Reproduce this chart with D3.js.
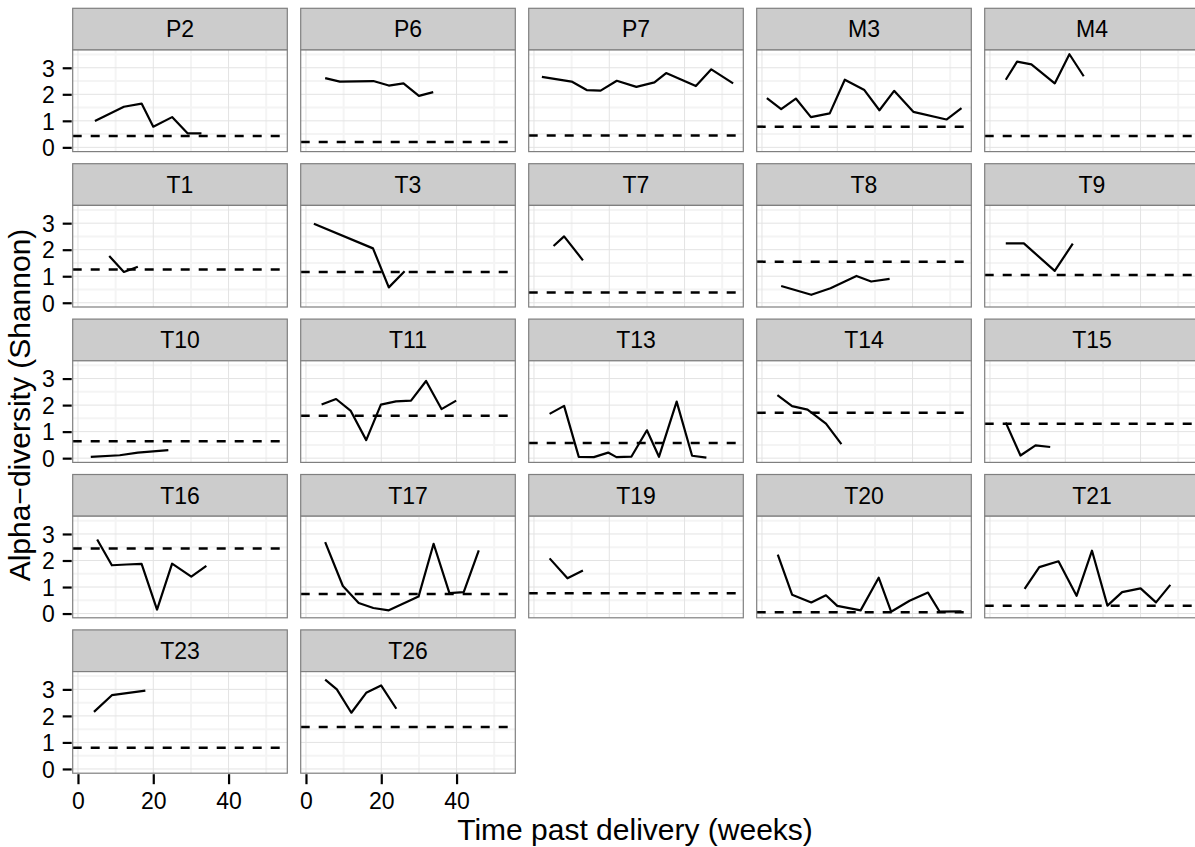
<!DOCTYPE html>
<html>
<head>
<meta charset="utf-8">
<script src="https://cdn.jsdelivr.net/npm/d3@7/dist/d3.min.js"></script>
<style>
  body { margin: 0; background: #ffffff; }
  svg { display: block; }
  text { font-family: "Liberation Sans", Arial, Helvetica, sans-serif; fill: #000; }
</style>
</head>
<body>
<svg id="chart" width="1195" height="847"></svg>
<script>
// Subjects, in facet order
const subjects = ["P2", "P6", "P7", "M3", "M4",
                  "T1", "T3", "T7", "T8", "T9",
                  "T10", "T11", "T13", "T14", "T15",
                  "T16", "T17", "T19", "T20", "T21",
                  "T23", "T26"];

// Sampling times (weeks past delivery), one list per subject
const weeks = [
  [4.5, 12.2, 16.9, 20.0, 25.0, 29.1, 32.8],
  [5.1, 9.0, 17.9, 22.0, 25.9, 30.0, 33.8],
  [2.1, 10.0, 14.0, 17.7, 22.0, 27.2, 32.0, 35.1, 43.0, 47.1, 52.9],
  [1.3, 5.1, 9.0, 13.0, 18.0, 22.0, 27.2, 31.2, 35.1, 40.2, 49.0, 53.0],
  [4.2, 7.2, 11.0, 17.2, 21.1, 24.9],
  [8.3, 12.2, 15.9],
  [2.1, 17.8, 22.0, 26.2],
  [5.2, 8.0, 13.0],
  [5.1, 13.1, 18.2, 25.1, 29.0, 33.9],
  [4.2, 9.0, 17.2, 22.0],
  [3.4, 11.1, 15.9, 24.0],
  [4.15, 8.0, 11.9, 16.0, 19.9, 23.9, 27.9, 31.9, 36.0, 39.9],
  [4.15, 8.0, 11.9, 15.9, 19.7, 21.9, 25.9, 30.0, 33.2, 37.9, 42.0, 45.8],
  [4.1, 8.0, 12.1, 17.0, 21.1],
  [4.2, 8.1, 12.1, 16.0],
  [5.1, 9.0, 12.9, 16.9, 21.0, 25.0, 30.1, 34.1],
  [5.1, 9.8, 14.0, 17.9, 22.0, 29.9, 33.9, 38.1, 41.9, 45.9],
  [4.15, 8.9, 13.0],
  [4.2, 8.0, 13.1, 17.0, 20.0, 26.2, 31.0, 34.3, 39.2, 44.1, 47.2, 53.0],
  [9.2, 13.1, 18.2, 23.0, 27.1, 31.2, 35.1, 40.0, 44.1, 47.9],
  [4.25, 9.0, 17.9],
  [5.1, 8.2, 12.05, 16.0, 19.95, 24.0]
];

// Shannon diversity at each sampling time
const shannon = [
  [0.99, 1.53, 1.65, 0.78, 1.14, 0.53, 0.53],
  [2.61, 2.48, 2.50, 2.33, 2.41, 1.94, 2.08],
  [2.66, 2.48, 2.16, 2.14, 2.51, 2.28, 2.45, 2.80, 2.31, 2.94, 2.41],
  [1.86, 1.44, 1.84, 1.14, 1.28, 2.55, 2.16, 1.40, 2.13, 1.34, 1.05, 1.48],
  [2.55, 3.23, 3.13, 2.41, 3.51, 2.68],
  [1.76, 1.16, 1.36],
  [2.98, 2.05, 0.58, 1.19],
  [2.14, 2.50, 1.60],
  [0.63, 0.30, 0.55, 1.01, 0.80, 0.90],
  [2.24, 2.24, 1.20, 2.23],
  [0.05, 0.11, 0.21, 0.30],
  [2.02, 2.23, 1.78, 0.68, 2.02, 2.14, 2.17, 2.91, 1.85, 2.17],
  [1.67, 1.97, 0.05, 0.04, 0.21, 0.04, 0.06, 1.05, 0.05, 2.13, 0.09, 0.02],
  [2.38, 1.96, 1.83, 1.30, 0.53],
  [1.34, 0.10, 0.48, 0.42],
  [2.79, 1.82, 1.85, 1.87, 0.15, 1.88, 1.39, 1.80],
  [2.69, 1.04, 0.40, 0.21, 0.12, 0.64, 2.63, 0.77, 0.81, 2.38],
  [2.08, 1.33, 1.62],
  [2.22, 0.71, 0.42, 0.69, 0.29, 0.12, 1.35, 0.07, 0.48, 0.79, 0.07, 0.08],
  [0.93, 1.75, 1.97, 0.67, 2.37, 0.30, 0.81, 0.95, 0.42, 1.08],
  [2.15, 2.78, 2.95],
  [3.37, 3.00, 2.12, 2.87, 3.15, 2.27]
];

// Reference level per subject (dashed line)
const baseline = [0.43, 0.20, 0.45, 0.78, 0.43,
                  1.25, 1.16, 0.39, 1.55, 1.05,
                  0.64, 1.60, 0.57, 1.71, 1.30,
                  2.45, 0.74, 0.77, 0.05, 0.29,
                  0.80, 1.58];

// Axis breaks
const xTicks = [0, 20, 40];
const yTicks = [0, 1, 2, 3];
const xMinorTicks = [10, 30, 50];
const yMinorTicks = [0.5, 1.5, 2.5, 3.5];

// Facet grid geometry
const nCols = 5;
const nRows = Math.ceil(subjects.length / nCols);
const left0 = 72.7, colStep = 228, panelW = 214.6;
const top0 = 8.3, rowStep = 155.4, stripH = 41.7, panelH = 101.6;

const x = d3.scaleLinear().domain([-1.4, 55.6]).range([0, panelW]);
const y = d3.scaleLinear().domain([-0.16, 3.67]).range([panelH, 0]);

const svg = d3.select("#chart");
svg.append("rect").attr("width", 1195).attr("height", 847).attr("fill", "#ffffff");

const line = d3.line()
  .x(d => x(d[0]))
  .y(d => y(d[1]));

subjects.forEach((name, i) => {
  const col = i % nCols, row = Math.floor(i / nCols);
  const px = left0 + col * colStep;
  const stripTop = top0 + row * rowStep;
  const py = stripTop + stripH;

  // strip
  const strip = svg.append("g").attr("transform", `translate(${px},${stripTop})`);
  strip.append("rect")
    .attr("width", panelW).attr("height", stripH)
    .attr("fill", "#cccccc").attr("stroke", "#7f7f7f").attr("stroke-width", 1.2);
  strip.append("text")
    .attr("x", panelW / 2).attr("y", stripH / 2).attr("dy", "0.36em")
    .attr("text-anchor", "middle").attr("font-size", 23)
    .attr("fill", "#1a1a1a")
    .text(name);

  const g = svg.append("g").attr("transform", `translate(${px},${py})`);
  g.append("rect").attr("width", panelW).attr("height", panelH).attr("fill", "#ffffff");

  // minor grid
  g.selectAll(".vminor").data(xMinorTicks).enter().append("line")
    .attr("x1", d => x(d)).attr("x2", d => x(d))
    .attr("y1", 0).attr("y2", panelH)
    .attr("stroke", "#f4f4f4").attr("stroke-width", 2);
  g.selectAll(".hminor").data(yMinorTicks).enter().append("line")
    .attr("y1", d => y(d)).attr("y2", d => y(d))
    .attr("x1", 0).attr("x2", panelW)
    .attr("stroke", "#f4f4f4").attr("stroke-width", 2);
  // major grid
  g.selectAll(".vmajor").data(xTicks).enter().append("line")
    .attr("x1", d => x(d)).attr("x2", d => x(d))
    .attr("y1", 0).attr("y2", panelH)
    .attr("stroke", "#e3e3e3").attr("stroke-width", 1);
  g.selectAll(".hmajor").data(yTicks).enter().append("line")
    .attr("y1", d => y(d)).attr("y2", d => y(d))
    .attr("x1", 0).attr("x2", panelW)
    .attr("stroke", "#e3e3e3").attr("stroke-width", 1);

  // dashed reference level
  g.append("line")
    .attr("x1", 0).attr("x2", panelW)
    .attr("y1", y(baseline[i])).attr("y2", y(baseline[i]))
    .attr("stroke", "#000").attr("stroke-width", 2.5)
    .attr("stroke-dasharray", "9,9");

  // diversity trajectory
  const pts = weeks[i].map((w, k) => [w, shannon[i][k]]);
  g.append("path")
    .attr("d", line(pts))
    .attr("fill", "none").attr("stroke", "#000")
    .attr("stroke-width", 2.2).attr("stroke-linejoin", "round");

  // panel border
  g.append("rect").attr("width", panelW).attr("height", panelH)
    .attr("fill", "none").attr("stroke", "#7f7f7f").attr("stroke-width", 1.2);

  // y axis on first column
  if (col === 0) {
    const ax = g.append("g").call(
      d3.axisLeft(y).tickValues(yTicks).tickFormat(d3.format("d")).tickSize(9).tickPadding(9));
    ax.select(".domain").remove();
    ax.selectAll(".tick line").attr("stroke", "#000").attr("stroke-width", 2.2)
      .attr("transform", "translate(-1,0)");
    ax.selectAll(".tick text").attr("font-size", 23).attr("fill", "#000")
      .attr("font-family", null).attr("dy", "0.36em");
  }
  // x axis on last row
  if (row === nRows - 1) {
    const ax = g.append("g").attr("transform", `translate(0,${panelH})`)
      .call(d3.axisBottom(x).tickValues(xTicks).tickFormat(d3.format("d")).tickSize(10).tickPadding(9));
    ax.select(".domain").remove();
    ax.selectAll(".tick line").attr("stroke", "#000").attr("stroke-width", 2.2)
      .attr("transform", "translate(0,1)");
    ax.selectAll(".tick text").attr("font-size", 23).attr("fill", "#000")
      .attr("font-family", null).attr("dy", "0.75em");
  }
});

// axis titles
svg.append("text")
  .attr("x", 635).attr("y", 840)
  .attr("text-anchor", "middle").attr("font-size", 30)
  .text("Time past delivery (weeks)");

svg.append("text")
  .attr("transform", "translate(30,405) rotate(-90)")
  .attr("text-anchor", "middle").attr("font-size", 30)
  .text("Alpha\u2212diversity (Shannon)");
</script>
</body>
</html>
